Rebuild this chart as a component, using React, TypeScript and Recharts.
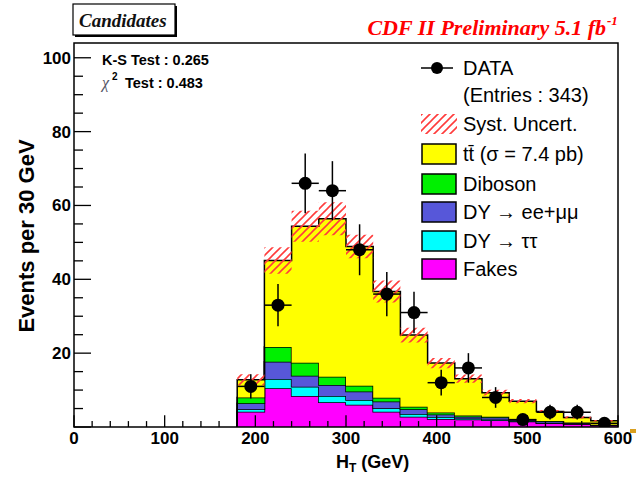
import React from 'react';
import {
  ComposedChart, Area, Scatter, ErrorBar, XAxis, YAxis, ReferenceArea, ReferenceLine,
} from 'recharts';

// H_T histogram, 30 GeV bins (low edges)
const binLow = [180, 210, 240, 270, 300, 330, 360, 390, 420, 450, 480, 510, 540, 570];
const binCenter = [195, 225, 255, 285, 315, 345, 375, 405, 435, 465, 495, 525, 555, 585];
const histEnd = 600;

// stacked backgrounds, bottom to top
const fakes = [4.1, 10.5, 8.4, 6.7, 6.0, 4.1, 2.8, 2.2, 2.0, 1.8, 1.5, 1.0, 0.8, 0.4];
const dyTauTau = [0.7, 2.5, 2.5, 1.7, 1.3, 1.0, 0.7, 0.5, 0.3, 0.2, 0.1, 0.1, 0.1, 0.05];
const dyEeMuMu = [1.6, 4.7, 3.0, 3.0, 2.3, 1.8, 1.3, 0.7, 0.5, 0.6, 0.3, 0.4, 0.2, 0.1];
const diboson = [1.6, 4.0, 3.5, 2.2, 1.6, 1.0, 0.7, 0.5, 0.3, 0.2, 0.2, 0.1, 0.1, 0.05];
const ttbar = [4.8, 23.4, 37.0, 42.8, 37.7, 28.8, 19.4, 13.4, 10.0, 6.5, 4.9, 2.6, 1.4, 1.1];
const syst = [1.5, 3.6, 4.2, 4.5, 3.2, 3.0, 2.0, 1.4, 1.1, 0.8, 0.6, 0.4, 0.3, 0.2];

// data points
const dataCounts = [11, 33, 66, 64, 48, 36, 31, 12, 16, 8, 2, 4, 4, 1];
const dataErr = [3.3, 5.7, 8.1, 8.0, 6.9, 6.0, 5.6, 3.5, 4.0, 2.8, 1.4, 2.0, 2.0, 1.0];
const halfBin = 15;

const xTicks = [0, 20, 40, 60, 80, 100, 120, 140, 160, 180, 200, 220, 240, 260, 280, 300, 320, 340, 360, 380, 400, 420, 440, 460, 480, 500, 520, 540, 560, 580, 600];
const xMajor = [0, 100, 200, 300, 400, 500, 600];
const yTicks = [0, 5, 10, 15, 20, 25, 30, 35, 40, 45, 50, 55, 60, 65, 70, 75, 80, 85, 90, 95, 100];
const yMajor = [0, 20, 40, 60, 80, 100];
const yMax = 104;
// inward tick lengths on the x axis, in y units (ROOT draws them inside the frame)
const xMajorLen = 3.2;
const xMinorLen = 1.6;

const SANS = '"Liberation Sans", Arial, sans-serif';
const SERIF = '"Liberation Serif", "Times New Roman", serif';

const layers = [
  { key: 'fakes', vals: fakes, color: '#ff00ff' },
  { key: 'dyTauTau', vals: dyTauTau, color: '#00ffff' },
  { key: 'dyEeMuMu', vals: dyEeMuMu, color: '#5757d9' },
  { key: 'diboson', vals: diboson, color: '#00f000' },
  { key: 'ttbar', vals: ttbar, color: '#ffff00' },
];

const row = (x: number, i: number | null) => {
  const r: any = { x };
  let total = 0;
  layers.forEach((l) => {
    const v = i === null ? 0 : l.vals[i];
    r[l.key] = v;
    total += v;
  });
  r.band = i === null ? null : [total - syst[i], total + syst[i]];
  return r;
};

const histRows = [
  row(binLow[0], null),
  ...binLow.map((x, i) => row(x, i)),
  row(histEnd, binLow.length - 1),
  row(histEnd, null),
];

const points = binCenter.map((x, i) => ({ x, y: dataCounts[i], ey: dataErr[i], ex: halfBin }));

const XTick = (props: any) => {
  const { x, y, payload } = props;
  if (!xMajor.includes(payload.value)) return <g />;
  return (
    <text x={x} y={y + 17} textAnchor="middle" fontFamily={SANS} fontWeight="bold" fontSize={17} fill="#000">
      {payload.value}
    </text>
  );
};

const YTick = (props: any) => {
  const { x, y, payload } = props;
  const major = yMajor.includes(payload.value);
  return (
    <g>
      <line x1={x} x2={x + (major ? 17 : 9)} y1={y} y2={y} stroke="#000" strokeWidth={1.3} />
      {major && payload.value > 0 && (
        <text x={x - 3} y={y + 6} textAnchor="end" fontFamily={SANS} fontWeight="bold" fontSize={17} fill="#000">
          {payload.value}
        </text>
      )}
    </g>
  );
};

const legendRows = [
  { label: 'tt\u0304 (\u03c3 = 7.4 pb)', color: '#ffff00', y: 144 },
  { label: 'Diboson', color: '#00f000', y: 174 },
  { label: 'DY \u2192 ee+\u03bc\u03bc', color: '#5757d9', y: 202 },
  { label: 'DY \u2192 \u03c4\u03c4', color: '#00ffff', y: 231 },
  { label: 'Fakes', color: '#ff00ff', y: 259 },
];

const Overlay = () => (
  <svg width={644} height={477} style={{ position: 'absolute', left: 0, top: 0, pointerEvents: 'none' }}>
    {/* title box */}
    <rect x={75} y={6} width={102} height={31} fill="#000" />
    <rect x={73} y={4} width={102} height={31} fill="#fff" stroke="#000" strokeWidth={1.2} />
    <text x={79} y={27} fontFamily={SERIF} fontWeight="bold" fontStyle="italic" fontSize={19} fill="#111">Candidates</text>
    <text x={606} y={35} textAnchor="end" fontFamily={SERIF} fontWeight="bold" fontStyle="italic" fontSize={22} fill="#ff0000">
      CDF II Preliminary 5.1 fb
    </text>
    <text x={607} y={25} fontFamily={SERIF} fontWeight="bold" fontStyle="italic" fontSize={13} fill="#ff0000">-1</text>

    {/* stats */}
    <text x={102} y={65} fontFamily={SANS} fontWeight="bold" fontSize={14.5} fill="#000">K-S Test : 0.265</text>
    <text x={102} y={88} fontFamily={SERIF} fontStyle="italic" fontSize={16} fill="#556">{'\u03c7'}</text>
    <text x={112} y={80} fontFamily={SANS} fontWeight="bold" fontSize={10} fill="#000">2</text>
    <text x={125} y={88} fontFamily={SANS} fontWeight="bold" fontSize={14.5} fill="#000">Test  : 0.483</text>

    {/* legend */}
    <line x1={421} x2={453} y1={68} y2={68} stroke="#000" strokeWidth={1.5} />
    <circle cx={437} cy={68} r={6} fill="#000" />
    <text x={463} y={75} fontFamily={SANS} fontSize={20} fill="#000">DATA</text>
    <text x={463} y={102} fontFamily={SANS} fontSize={20} fill="#000">(Entries : 343)</text>
    <rect x={421} y={114} width={36} height={20} fill="url(#hatch)" />
    <text x={463} y={131} fontFamily={SANS} fontSize={20} fill="#000">Syst. Uncert.</text>
    {legendRows.map((r) => (
      <g key={r.label}>
        <rect x={422} y={r.y} width={34} height={20} fill={r.color} stroke="#000" strokeWidth={1.5} />
        <text x={463} y={r.y + 17} fontFamily={SANS} fontSize={20} fill="#000">{r.label}</text>
      </g>
    ))}

    {/* axis titles */}
    <text
      transform="translate(34, 236) rotate(-90)"
      textAnchor="middle"
      fontFamily={SANS}
      fontWeight="bold"
      fontSize={22}
      fill="#000"
    >
      Events per 30 GeV
    </text>
    <text x={336} y={468} fontFamily={SANS} fontWeight="bold" fontSize={18} fill="#000">
      H<tspan fontSize={12} dy={4}>T</tspan><tspan dy={-4}> (GeV)</tspan>
    </text>
    <rect x={630} y={429} width={6} height={4} fill="#d9a020" />
  </svg>
);

export default function App() {
  return (
    <div style={{ position: 'absolute', left: 0, top: 0, width: 644, height: 477, background: '#fff' }}>
      <svg width={0} height={0} style={{ position: 'absolute' }}>
        <defs>
          <pattern id="hatch" patternUnits="userSpaceOnUse" width={8} height={8}>
            <path d="M-2,2 L2,-2 M0,8 L8,0 M6,10 L10,6" stroke="#ff3c3c" strokeWidth={1.6} />
          </pattern>
        </defs>
      </svg>
      <div style={{ position: 'absolute', left: 0, top: 0 }}>
        <ComposedChart
          width={644}
          height={477}
          data={histRows}
          margin={{ top: 43, right: 26, bottom: 0, left: 0 }}
        >
          <Area
            type="stepAfter" dataKey="fakes" stackId="mc" fill="#ff00ff" fillOpacity={1}
            stroke="#000" strokeWidth={1.5} dot={false} activeDot={false} isAnimationActive={false}
          />
          <Area
            type="stepAfter" dataKey="dyTauTau" stackId="mc" fill="#00ffff" fillOpacity={1}
            stroke="#000" strokeWidth={1.5} dot={false} activeDot={false} isAnimationActive={false}
          />
          <Area
            type="stepAfter" dataKey="dyEeMuMu" stackId="mc" fill="#5757d9" fillOpacity={1}
            stroke="#000" strokeWidth={1.5} dot={false} activeDot={false} isAnimationActive={false}
          />
          <Area
            type="stepAfter" dataKey="diboson" stackId="mc" fill="#00f000" fillOpacity={1}
            stroke="#000" strokeWidth={1.5} dot={false} activeDot={false} isAnimationActive={false}
          />
          <Area
            type="stepAfter" dataKey="ttbar" stackId="mc" fill="#ffff00" fillOpacity={1}
            stroke="#000" strokeWidth={1.5} dot={false} activeDot={false} isAnimationActive={false}
          />
          <Area
            type="stepAfter" dataKey="band" fill="url(#hatch)" fillOpacity={1}
            stroke="none" dot={false} activeDot={false} isAnimationActive={false}
          />
          <Scatter
            data={points}
            dataKey="y"
            isAnimationActive={false}
            shape={(p: any) => <circle cx={p.cx} cy={p.cy} r={6.5} fill="#000" />}
          >
            <ErrorBar dataKey="ey" direction="y" width={0} stroke="#000" strokeWidth={1.5} isAnimationActive={false} />
            <ErrorBar dataKey="ex" direction="x" width={0} stroke="#000" strokeWidth={1.5} isAnimationActive={false} />
          </Scatter>
          <XAxis
            dataKey="x" type="number" domain={[0, 600]} ticks={xTicks} interval={0}
            allowDataOverflow height={50} axisLine={false} tickLine={false}
            tickSize={0} tickMargin={0} tick={<XTick />}
          />
          <YAxis
            type="number" domain={[0, yMax]} ticks={yTicks} interval={0}
            allowDataOverflow width={74} axisLine={false} tickLine={false}
            tickSize={0} tickMargin={0} tick={<YTick />}
          />
          {xTicks.map((v) => (
            <ReferenceLine
              key={`xt${v}`}
              segment={[{ x: v, y: 0 }, { x: v, y: xMajor.includes(v) ? xMajorLen : xMinorLen }]}
              stroke="#000"
              strokeWidth={1.3}
              ifOverflow="visible"
            />
          ))}
          <ReferenceArea x1={0} x2={600} y1={0} y2={yMax} fill="none" stroke="#000" strokeWidth={1.5} ifOverflow="visible" />
        </ComposedChart>
      </div>
      <Overlay />
    </div>
  );
}
